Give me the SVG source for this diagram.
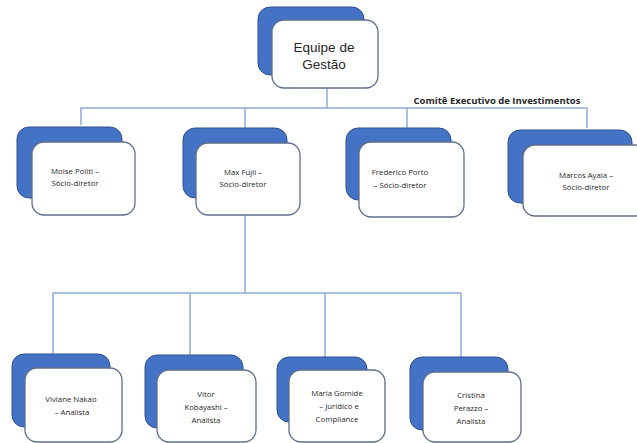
<svg xmlns="http://www.w3.org/2000/svg" width="637" height="443" viewBox="0 0 637 443">
<style>
.bk{fill:#4472C4;stroke:#2F528F;stroke-width:1}
.fr{fill:#FFFFFF;stroke:#5F6F8F;stroke-width:1.3}
.t{font-family:"Open Sans","Liberation Sans",sans-serif;font-size:7.8px;fill:#262626;text-anchor:middle}
.tt{font-family:"Liberation Sans","Open Sans",sans-serif;font-size:13.5px;fill:#262626;text-anchor:middle}
.c{fill:none;stroke:#8FAADC;stroke-width:1.5}
.lbl{font-family:"Open Sans","Liberation Sans",sans-serif;font-size:9.5px;font-weight:bold;fill:#262626;text-anchor:middle}
</style>
<rect width="637" height="443" fill="#FFFFFF"/>
<g id="connectors">
<path class="c" d="M327 88V108M81 125V108H587V128M245 108V128M407 108V128"/>
<path class="c" d="M245 215V293M53 354V293H461V357M190 293V355M325 293V357"/>
</g>
<text class="lbl" x="497" y="104">Comitê Executivo de Investimentos</text>
<g id="gestao">
<rect class="bk" x="258" y="7" width="106" height="68" rx="12"/>
<rect class="fr" x="272" y="20" width="106" height="68" rx="12"/>
<text class="tt" x="324" y="52">Equipe de</text>
<text class="tt" x="324" y="69">Gestão</text>
</g>
<g id="moise">
<rect class="bk" x="17" y="127" width="105" height="71" rx="12"/>
<rect class="fr" x="32" y="142" width="103" height="73" rx="12"/>
<text class="t" x="75" y="174">Moise Politi –</text>
<text class="t" x="75" y="186">Sócio-diretor</text>
</g>
<g id="max">
<rect class="bk" x="183" y="128" width="104" height="70" rx="12"/>
<rect class="fr" x="196" y="143" width="104" height="72" rx="12"/>
<text class="t" x="243" y="175">Max Fujii –</text>
<text class="t" x="243" y="187">Sócio-diretor</text>
</g>
<g id="frederico">
<rect class="bk" x="346" y="128" width="105" height="72" rx="12"/>
<rect class="fr" x="359" y="142" width="105" height="75" rx="12"/>
<text class="t" x="400" y="175">Frederico Porto</text>
<text class="t" x="400" y="188">– Sócio-diretor</text>
</g>
<g id="marcos">
<rect class="bk" x="508" y="130" width="124" height="73" rx="12"/>
<rect class="fr" x="523" y="145" width="124" height="71" rx="12"/>
<text class="t" x="586" y="178">Marcos Ayala –</text>
<text class="t" x="586" y="190">Sócio-diretor</text>
</g>
<g id="viviane">
<rect class="bk" x="12" y="354" width="98" height="73" rx="12"/>
<rect class="fr" x="25" y="368" width="97" height="74" rx="12"/>
<text class="t" x="71" y="402">Viviane Nakao</text>
<text class="t" x="72" y="415">– Analista</text>
</g>
<g id="vitor">
<rect class="bk" x="145" y="355" width="98" height="73" rx="12"/>
<rect class="fr" x="157" y="370" width="99" height="72" rx="12"/>
<text class="t" x="206" y="397">Vitor</text>
<text class="t" x="206" y="410">Kobayashi –</text>
<text class="t" x="206" y="423">Analista</text>
</g>
<g id="maria">
<rect class="bk" x="277" y="357" width="90" height="65" rx="12"/>
<rect class="fr" x="289" y="370" width="96" height="72" rx="12"/>
<text class="t" x="337" y="396">Maria Gomide</text>
<text class="t" x="339" y="409">– Jurídico e</text>
<text class="t" x="337" y="422">Compliance</text>
</g>
<g id="cristina">
<rect class="bk" x="410" y="357" width="98" height="73" rx="12"/>
<rect class="fr" x="423" y="372" width="98" height="70" rx="12"/>
<text class="t" x="471" y="398">Cristina</text>
<text class="t" x="471" y="411">Perazzo –</text>
<text class="t" x="471" y="424">Analista</text>
</g>
</svg>
